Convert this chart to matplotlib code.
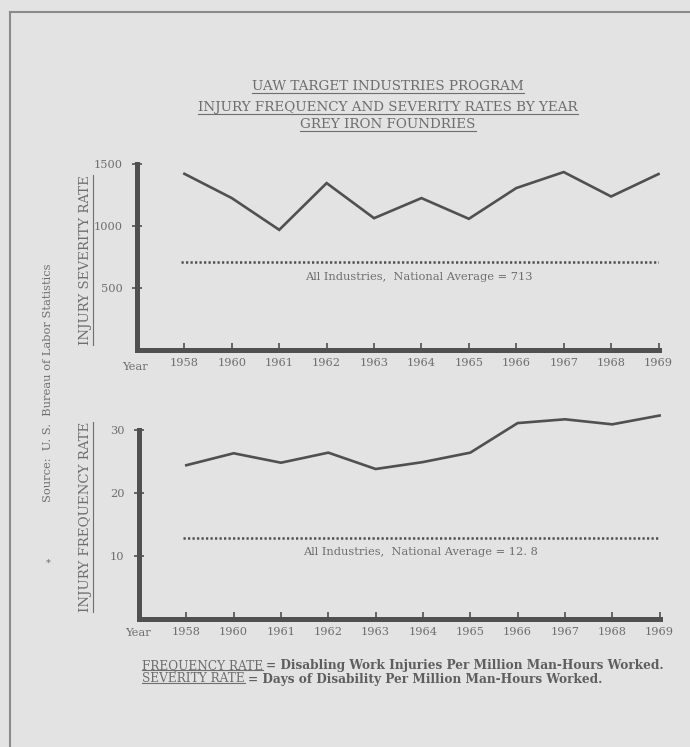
import matplotlib
matplotlib.use("Agg")
import matplotlib.pyplot as plt
from matplotlib.lines import Line2D
import numpy as np

# ---------------- data ----------------
years = ['1958', '1960', '1961', '1962', '1963', '1964', '1965', '1966', '1967', '1968', '1969']
severity = [1421, 1225, 969, 1346, 1063, 1225, 1058, 1306, 1435, 1238, 1419]
frequency = [24.4, 26.3, 24.8, 26.4, 23.8, 24.9, 26.4, 31.1, 31.7, 30.9, 32.3]
severity_avg = 713
frequency_avg = 12.8
severity_ticks = [500, 1000, 1500]
frequency_ticks = [10, 20, 30]

title_lines = ["UAW TARGET INDUSTRIES PROGRAM",
               "INJURY FREQUENCY AND SEVERITY RATES BY YEAR",
               "GREY IRON FOUNDRIES"]

BG = '#e3e3e3'
TXT = '#6e6e6e'
LINE = '#505050'
FONT = 'DejaVu Serif'
TS = 8.2

W, H = 690, 747
fig = plt.figure(figsize=(W / 100, H / 100), dpi=100, facecolor=BG)

def fx(px):
    return px / W

def fy(py):
    return 1 - py / H

# frame lines (scan border)
fig.add_artist(Line2D([fx(10), fx(10)], [fy(12), fy(747)], color='#8a8a8a', lw=1.5))
fig.add_artist(Line2D([fx(10), fx(690)], [fy(12), fy(12)], color='#8a8a8a', lw=1.5))

x = np.arange(len(years))


def style_axes(ax, ticks, ylim, avg, avg_label, label_y):
    ax.set_facecolor('none')
    ax.set_xlim(-1, len(years) - 1)
    ax.set_ylim(*ylim)
    for s in ['top', 'right']:
        ax.spines[s].set_visible(False)
    for s in ['left', 'bottom']:
        ax.spines[s].set_linewidth(3.6)
        ax.spines[s].set_color(LINE)
    ax.set_yticks(ticks)
    ax.set_yticklabels([str(t) for t in ticks], fontsize=TS, family=FONT, color=TXT)
    ax.set_xticks(x)
    ax.set_xticklabels(years, fontsize=TS, family=FONT, color=TXT)
    ax.tick_params(axis='y', direction='inout', length=7, width=1.2, color=LINE, pad=7)
    ax.tick_params(axis='x', direction='in', length=5, width=1.2, color=LINE, pad=6)
    ax.hlines(avg, x[0] - 0.08, x[-1], color=LINE, lw=1.8, linestyles=(0, (0.9, 0.9)))
    ax.text(x[5] - 0.05, label_y, avg_label, ha='center', va='center',
            fontsize=TS, family=FONT, color=TXT)


# ---------------- top chart ----------------
ax1 = fig.add_axes([fx(137), fy(350), fx(658.5 - 137), (350 - 164) / H])
ax1.plot(x, severity, color=LINE, lw=1.9, solid_joinstyle='miter', clip_on=False)
style_axes(ax1, severity_ticks, (0, 1500), severity_avg,
           "All Industries,  National Average = 713", 590)
ax1.text(-1.05, -0.092, "Year", transform=ax1.get_xaxis_transform(), ha='center', va='center',
         fontsize=TS, family=FONT, color=TXT)

# ---------------- bottom chart ----------------
ax2 = fig.add_axes([fx(139), fy(618.7), fx(659.6 - 139), (618.7 - 430) / H])
ax2.plot(x, frequency, color=LINE, lw=1.9, solid_joinstyle='miter', clip_on=False)
style_axes(ax2, frequency_ticks, (0, 30), frequency_avg,
           "All Industries,  National Average = 12. 8", 10.6)
ax2.text(-1.03, -0.075, "Year", transform=ax2.get_xaxis_transform(), ha='center', va='center',
         fontsize=TS, family=FONT, color=TXT)

# ---------------- texts ----------------
underlined = []
title_y = [87, 108, 125]
for t, yy in zip(title_lines, title_y):
    underlined.append((fig.text(fx(388), fy(yy), t, ha='center', va='center',
                                fontsize=9.7, family=FONT, color=TXT), 1))

underlined.append((fig.text(fx(85), fy(260), "INJURY SEVERITY RATE", rotation=90,
                            ha='center', va='center', fontsize=9.6, family=FONT, color=TXT), 1))
underlined.append((fig.text(fx(85), fy(517), "INJURY FREQUENCY RATE", rotation=90,
                            ha='center', va='center', fontsize=9.6, family=FONT, color=TXT), 1))

fig.text(fx(48), fy(383), "Source:  U. S.  Bureau of Labor Statistics", rotation=90,
         ha='center', va='center', fontsize=8.2, family=FONT, color=TXT)
fig.text(fx(48), fy(563), "*", ha='center', va='center', fontsize=7, family=FONT, color=TXT)

FN = 8.7
fn1a = fig.text(fx(142), fy(666), "FREQUENCY RATE", ha='left', va='center',
                fontsize=FN, family=FONT, color=TXT)
fn2a = fig.text(fx(142), fy(679), "SEVERITY RATE", ha='left', va='center',
                fontsize=FN, family=FONT, color=TXT)
underlined += [(fn1a, 2.8), (fn2a, 2.8)]

fig.canvas.draw()
renderer = fig.canvas.get_renderer()

fn1b_x = fn1a.get_window_extent(renderer).x1 + 3
fn2b_x = fn2a.get_window_extent(renderer).x1 + 3
fig.text(fn1b_x / W, fy(666), "= Disabling Work Injuries Per Million Man-Hours Worked.",
         ha='left', va='center', fontsize=FN, family=FONT, color='#5e5e5e', weight='bold')
fig.text(fn2b_x / W, fy(679), "= Days of Disability Per Million Man-Hours Worked.",
         ha='left', va='center', fontsize=FN, family=FONT, color='#5e5e5e', weight='bold')


def underline(t, off):
    bb = t.get_window_extent(renderer)
    if t.get_rotation() == 90:
        xx = bb.x1 + off
        fig.add_artist(Line2D([xx / W, xx / W], [bb.y0 / H, bb.y1 / H], color=TXT, lw=0.8))
    else:
        yy = bb.y0 + off
        fig.add_artist(Line2D([bb.x0 / W, bb.x1 / W], [yy / H, yy / H], color=TXT, lw=0.8))


for t, off in underlined:
    underline(t, off)

fig.savefig("out.png", dpi=100, facecolor=BG)
